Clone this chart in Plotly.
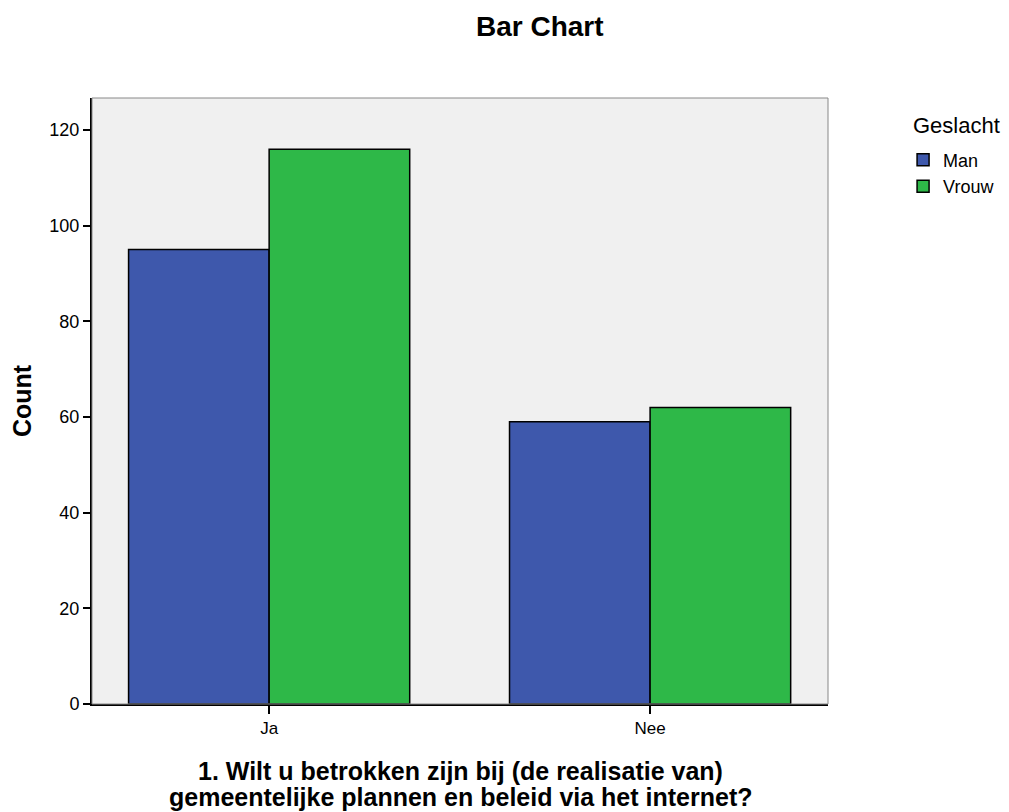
import plotly.graph_objects as go

categories = ["Ja", "Nee"]
man = [95, 59]
vrouw = [116, 62]
yticks = [0, 20, 40, 60, 80, 100, 120]
xtitle_lines = ["1. Wilt u betrokken zijn bij (de realisatie van)",
                "gemeentelijke plannen en beleid via het internet?"]

fig = go.Figure()
fig.add_trace(go.Bar(x=categories, y=man, name="Man",
                     marker=dict(color="#3E58AC", line=dict(color="black", width=1.5))))
fig.add_trace(go.Bar(x=categories, y=vrouw, name="Vrouw",
                     marker=dict(color="#2EB848", line=dict(color="black", width=1.5))))

# page body has a default 8px margin, so margins are shifted a bit
fig.update_layout(
    width=1009, height=812,
    margin=dict(l=84, r=189, t=90, b=116),
    paper_bgcolor="white", plot_bgcolor="#F0F0F0",
    barmode="group", bargap=0.262, bargroupgap=0,
    font=dict(family="Liberation Sans, Arial", size=17, color="black"),
    title=dict(text="<b>Bar Chart</b>", x=0.527, xanchor="center", y=0.978, yanchor="middle",
               font=dict(size=28)),
    legend=dict(x=1.102, xanchor="left", y=0.928, yanchor="top", font=dict(size=18),
                tracegroupgap=0, bgcolor="rgba(0,0,0,0)"),
    shapes=[dict(type="rect", xref="paper", yref="paper", x0=0, x1=1, y0=0, y1=1,
                 line=dict(color="#888888", width=1), layer="above")],
)

annotations = [dict(text="Geslacht", xref="paper", yref="paper", x=1.113, y=0.955,
                    xanchor="left", yanchor="middle", showarrow=False, font=dict(size=22))]
for i, line in enumerate(xtitle_lines):
    annotations.append(dict(text="<b>" + line + "</b>", xref="paper", yref="paper",
                            x=0.5, y=-0.11 - i * 0.044, xanchor="center", yanchor="middle",
                            showarrow=False, font=dict(size=25)))
fig.update_layout(annotations=annotations)

fig.update_xaxes(range=[-0.465, 1.467], showline=True, linecolor="black", linewidth=2,
                 ticks="outside", ticklen=8, tickwidth=1.5, tickcolor="black",
                 tickfont=dict(size=17), showgrid=False)
fig.update_yaxes(range=[0, 126.7], tickvals=yticks, showline=True, linecolor="black", linewidth=2,
                 ticks="outside", ticklen=7, tickwidth=1.5, tickcolor="black",
                 tickfont=dict(size=18), showgrid=False, zeroline=False,
                 title=dict(text="<b>Count</b>", font=dict(size=25), standoff=12))

fig.write_html("out.html")
